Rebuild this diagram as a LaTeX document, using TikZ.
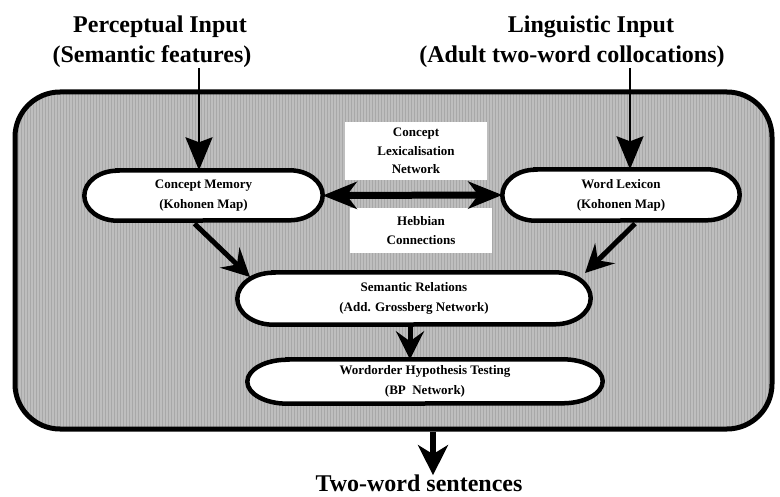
\documentclass[tikz,border=0pt]{standalone}
\usepackage{fontspec}
\setmainfont{Liberation Serif}
\usetikzlibrary{arrows.meta,calc,patterns}
\definecolor{panelgray}{RGB}{190,190,190}
\definecolor{stripegray}{RGB}{168,168,168}
\pgfdeclarelayer{background}
\pgfsetlayers{background,main}
\tikzset{
  title/.style={font=\fontsize{24}{28}\selectfont\bfseries, inner sep=0pt, anchor=base},
  pill/.style={rectangle, align=center, font=\fontsize{13}{20}\selectfont\bfseries, inner sep=0pt},
  pillborder/.style={draw=black, line width=4.5pt, fill=white},
  label box/.style={rectangle, fill=white, align=center, inner sep=0pt,
     font=\fontsize{13}{18.5}\selectfont\bfseries},
  inarrow/.style={line width=2.5pt, -{Stealth[length=33pt,width=27pt,inset=5pt]}},
  thickarrow/.style={line width=5pt, -{Stealth[length=28pt,width=28pt,inset=10pt]}},
  dblarrow/.style={line width=7pt, {Stealth[length=34pt,width=27pt,inset=10pt]}-{Stealth[length=34pt,width=27pt,inset=10pt]}},
  outarrow/.style={line width=6pt, -{Stealth[length=30pt,width=30pt,inset=9pt]}}
}
% #1 node name, #2 end x-radius, #3 end y-radius
\newcommand{\pillpath}[3]{%
  \path[pillborder] ([xshift=#2]#1.north west) -- ([xshift=-#2]#1.north east)
    arc[start angle=90, end angle=-90, x radius=#2, y radius=#3]
    -- ([xshift=#2]#1.south west)
    arc[start angle=270, end angle=90, x radius=#2, y radius=#3] -- cycle;}
\begin{document}
\begin{tikzpicture}[x=1pt,y=-1pt]
\useasboundingbox (0,0) rectangle (780,497);
% titles
\node[title] (p1) at (160,33) {Perceptual Input};
\node[title] (p2) at (152,63) {(Semantic features)};
\node[title] (l1) at (591,33) {Linguistic Input};
\node[title] (l2) at (572,63) {(Adult two-word collocations)};
% label boxes
\node[label box, minimum width=142pt, minimum height=58pt] (cln) at (416,151) {Concept\\Lexicalisation\\Network};
\node[label box, minimum width=142pt, minimum height=45pt] (heb) at (421,230.5) {Hebbian\\Connections};
% pills (text; outlines on background layer)
\node[pill, minimum width=238pt, minimum height=50pt] (cm) at (203.5,195.5) {Concept Memory\\(Kohonen Map)};
\node[pill, minimum width=237pt, minimum height=51pt] (wl) at (621,195) {Word Lexicon\\(Kohonen Map)};
\node[pill, minimum width=353pt, minimum height=52pt] (sr) at (414,298.5) {Semantic Relations\\(Add. Grossberg Network)};
\node[pill, minimum width=355pt, minimum height=44pt] (wo) at (425,381.5) {Wordorder Hypothesis Testing\\(BP\ \ Network)};
\begin{pgfonlayer}{background}
\node[rectangle, rounded corners=45pt, draw=black, line width=5pt,
      preaction={fill=panelgray},
      preaction={pattern=vertical lines, pattern color=stripegray},
      minimum width=757pt, minimum height=337pt, inner sep=0pt] (frame) at (393.5,260.5) {};
\pillpath{cm}{33pt}{25pt}
\pillpath{wl}{33pt}{25.5pt}
\pillpath{sr}{36pt}{26pt}
\pillpath{wo}{40pt}{22pt}
\end{pgfonlayer}
% output text
\node[title] (out) at (419,491) {Two-word sentences};
% connectors
\coordinate (pin) at (199,68);
\coordinate (lin) at (630,68);
\coordinate (mid) at (410,0);
\coordinate (outx) at (433,0);
\draw[inarrow] (pin) -- (pin |- cm.north);
\draw[inarrow] (lin) -- (lin |- wl.north);
\draw[dblarrow] (cm.east) -- (wl.west);
\draw[thickarrow] ($(cm.south)+(-9,3)$) -- ($(sr.center)+(-164,-21.5)$);
\draw[thickarrow] ($(wl.south)+(14,3)$) -- ($(sr.center)+(171,-25.5)$);
\draw[thickarrow] (sr.south -| mid) -- (wo.north -| mid);
\draw[outarrow] (frame.south -| outx) -- ($(out.north -| outx)+(0,1)$);
\end{tikzpicture}
\end{document}
